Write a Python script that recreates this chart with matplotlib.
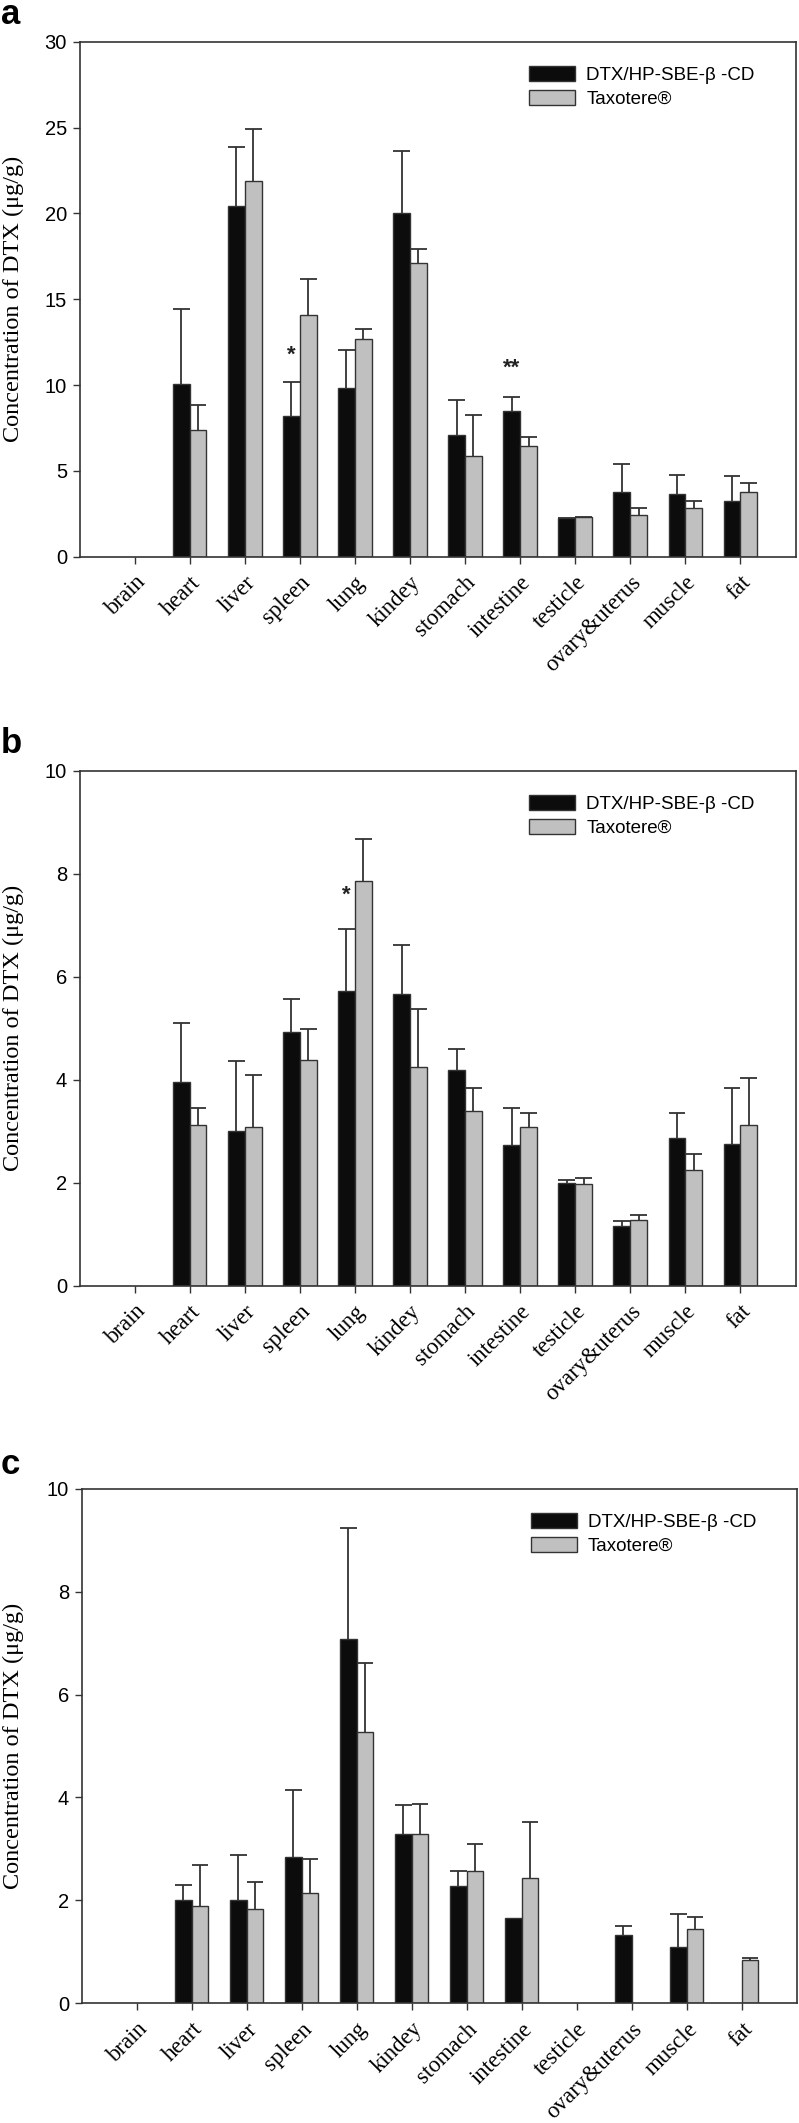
import numpy as np
import matplotlib
matplotlib.use('Agg')
import matplotlib.pyplot as plt
from matplotlib.patches import Patch
from matplotlib.transforms import ScaledTranslation

nan = np.nan

categories = ['brain', 'heart', 'liver', 'spleen', 'lung', 'kindey', 'stomach',
              'intestine', 'testicle', 'ovary&uterus', 'muscle', 'fat']
series_names = ['DTX/HP-SBE-\u03b2 -CD', 'Taxotere\u00ae']

# Panel a
a_dtx = [nan, 10.06, 20.45, 8.19, 9.80, 20.02, 7.07, 8.50, 2.24, 3.74, 3.67, 3.25]
a_dtx_sd = [nan, 4.37, 3.43, 1.97, 2.26, 3.63, 2.03, 0.78, 0.03, 1.64, 1.11, 1.48]
a_tax = [nan, 7.38, 21.89, 14.09, 12.71, 17.08, 5.87, 6.47, 2.29, 2.44, 2.83, 3.77]
a_tax_sd = [nan, 1.46, 3.04, 2.08, 0.55, 0.83, 2.37, 0.52, 0.05, 0.39, 0.39, 0.54]
a_stars = [(3, '*', 11.75), (7, '**', 11.0)]
a_ylim = 30
a_yticks = [0, 5, 10, 15, 20, 25, 30]

# Panel b
b_dtx = [nan, 3.95, 3.01, 4.92, 5.72, 5.66, 4.18, 2.73, 2.00, 1.15, 2.86, 2.76]
b_dtx_sd = [nan, 1.15, 1.35, 0.65, 1.20, 0.95, 0.41, 0.72, 0.06, 0.10, 0.49, 1.08]
b_tax = [nan, 3.12, 3.09, 4.38, 7.86, 4.25, 3.39, 3.08, 1.97, 1.28, 2.24, 3.12]
b_tax_sd = [nan, 0.33, 1.00, 0.61, 0.82, 1.13, 0.45, 0.27, 0.12, 0.09, 0.31, 0.91]
b_stars = [(4, '*', 7.59)]
b_ylim = 10
b_yticks = [0, 2, 4, 6, 8, 10]

# Panel c
c_dtx = [nan, 2.00, 2.00, 2.85, 7.08, 3.29, 2.28, 1.65, nan, 1.32, 1.10, nan]
c_dtx_sd = [nan, 0.30, 0.88, 1.30, 2.16, 0.56, 0.30, nan, nan, 0.18, 0.64, nan]
c_tax = [nan, 1.89, 1.84, 2.14, 5.28, 3.29, 2.58, 2.43, nan, nan, 1.45, 0.85]
c_tax_sd = [nan, 0.80, 0.51, 0.67, 1.33, 0.59, 0.52, 1.10, nan, nan, 0.22, 0.04]
c_stars = []
c_ylim = 10
c_yticks = [0, 2, 4, 6, 8, 10]

W, H = 799, 2123
fig = plt.figure(figsize=(W / 100, H / 100), dpi=100)

BLACK = '#0c0c0c'
GRAY = '#c0c0c0'
EDGE = '#333333'
SANS = 'Liberation Sans'
SERIF = 'Liberation Serif'


def px_axes(left, right, top, bottom):
    return fig.add_axes([left / W, 1 - bottom / H, (right - left) / W, (bottom - top) / H])


panels = [
    ('a', (79.5, 795.5, 41.7, 556.7), a_dtx, a_dtx_sd, a_tax, a_tax_sd, a_stars, a_ylim, a_yticks, 23.5),
    ('b', (79.5, 795.5, 770.7, 1285.7), b_dtx, b_dtx_sd, b_tax, b_tax_sd, b_stars, b_ylim, b_yticks, 753),
    ('c', (81.7, 796.7, 1488.7, 2003.3), c_dtx, c_dtx_sd, c_tax, c_tax_sd, c_stars, c_ylim, c_yticks, 1474),
]

bw = 0.305
x = np.arange(len(categories))
shift = ScaledTranslation(6 / 72, 0, fig.dpi_scale_trans)

for letter, box, d1, s1, d2, s2, stars, ylim, yticks, letter_base in panels:
    ax = px_axes(*box)
    d1 = np.array(d1, float); s1 = np.array(s1, float)
    d2 = np.array(d2, float); s2 = np.array(s2, float)
    for xs, d, s in ((x - bw / 2, d1, s1), (x + bw / 2, d2, s2)):
        m = np.isfinite(d) & np.isfinite(s)
        ax.vlines(xs[m], d[m], d[m] + s[m], color=EDGE, linewidth=1.3, zorder=1)
        ax.hlines(d[m] + s[m], xs[m] - bw / 2, xs[m] + bw / 2, color=EDGE,
                  linewidth=1.3, zorder=1)
    ax.bar(x - bw / 2, d1, bw, color=BLACK, edgecolor=EDGE, linewidth=1.0, zorder=2)
    ax.bar(x + bw / 2, d2, bw, color=GRAY, edgecolor=EDGE, linewidth=1.0, zorder=2)
    for idx, txt, yv in stars:
        ax.text(idx - bw / 2, yv, txt, ha='center', va='center', fontsize=16,
                fontweight='bold', family=SANS, color='#222222')
    ax.set_xlim(-1, 12)
    ax.set_ylim(0, ylim)
    ax.set_yticks(yticks)
    ax.set_xticks(x)
    ax.set_xticklabels(categories, rotation=45, ha='right', va='top',
                       rotation_mode='anchor', family=SERIF, fontsize=16.5)
    for lab in ax.get_xticklabels():
        lab.set_transform(lab.get_transform() + shift)
    for lab in ax.get_yticklabels():
        lab.set_family(SANS)
        lab.set_fontsize(14.5)
    ax.tick_params(axis='both', direction='out', length=5, width=1.0, color=EDGE)
    ax.tick_params(axis='x', pad=6)
    ax.tick_params(axis='y', pad=4)
    for sp in ax.spines.values():
        sp.set_color(EDGE)
        sp.set_linewidth(1.2)
    handles = [Patch(facecolor=BLACK, edgecolor=EDGE, linewidth=1.0),
               Patch(facecolor=GRAY, edgecolor=EDGE, linewidth=1.0)]
    ax.legend(handles, series_names, loc='upper left', bbox_to_anchor=(0.628, 0.952),
              frameon=False, prop={'family': SANS, 'size': 13.5}, handlelength=2.45,
              handleheight=0.85, handletextpad=0.6, labelspacing=0.3, borderpad=0,
              borderaxespad=0)
    cy = (box[2] + box[3]) / 2
    fig.text(13 / W, 1 - cy / H, 'Concentration of DTX (\u03bcg/g)', rotation=90,
             ha='center', va='center', family=SERIF, fontsize=17.5)
    fig.text(0.5 / W, 1 - letter_base / H, letter, ha='left', va='baseline',
             family=SANS, fontweight='bold', fontsize=25)

fig.savefig('out.png', dpi=100)
